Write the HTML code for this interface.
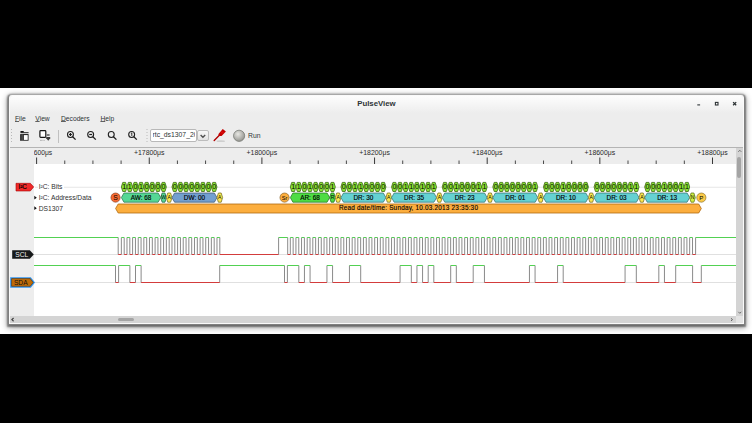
<!DOCTYPE html>
<html><head><meta charset="utf-8"><style>
*{margin:0;padding:0;box-sizing:border-box}
html,body{width:752px;height:423px;overflow:hidden;background:#fff;font-family:"Liberation Sans",sans-serif}
.blk{position:absolute;left:0;width:752px;background:#000}
.abs{position:absolute}
.win{position:absolute;left:8px;top:94px;width:737px;height:231px;background:#ededed;border:1px solid #808080;border-top-color:#a8a8a8;border-radius:4px 4px 0 0;box-shadow:0 1px 2px 0.5px rgba(0,0,0,0.45), 0 2px 6px 1px rgba(0,0,0,0.32), inset 0 0 0 1px #fafafa}
.title{position:absolute;left:10px;top:96px;width:733px;height:17px;background:linear-gradient(#fdfdfd,#ededed);border-radius:3px 3px 0 0}
.t{position:absolute;white-space:nowrap;line-height:1;color:#2e2e2e}
.menu{font-size:6.7px;top:116.1px;color:#2e3436}
.menu u{text-decoration:underline;text-decoration-color:#606060;text-underline-offset:0.3px}
svg{position:absolute;left:0;top:0}
</style></head><body>
<div class="blk" style="top:0;height:88px"></div>
<div class="blk" style="top:334px;height:89px"></div>
<div class="win"></div>
<div class="title"></div>

<div class="t" style="left:357.2px;top:99.6px;font-size:7.8px;font-weight:bold;color:#2e3436">PulseView</div>
<div class="t menu" style="left:15px"><u>F</u>ile</div>
<div class="t menu" style="left:35.3px"><u>V</u>iew</div>
<div class="t menu" style="left:61px"><u>D</u>ecoders</div>
<div class="t menu" style="left:100.4px"><u>H</u>elp</div>
<!-- toolbar bottom border + panels -->
<div class="abs" style="left:10px;top:147px;width:733px;height:1px;background:#b4b4b4"></div>
<div class="abs" style="left:34px;top:164px;width:702px;height:152px;background:#fff"></div>
<div class="abs" style="left:736px;top:148px;width:7px;height:168px;background:#d4d4d4"></div>
<div class="abs" style="left:10px;top:316px;width:726px;height:7px;background:#d4d4d4"></div>
<div class="abs" style="left:736px;top:316px;width:7px;height:7px;background:#e4e4e4"></div>
<div class="abs" style="left:737.2px;top:156.5px;width:4px;height:21.5px;background:#a4a4a4;border-radius:2px"></div>
<div class="abs" style="left:118.2px;top:317.8px;width:15.5px;height:3.6px;background:#a4a4a4;border-radius:2px"></div>
<!-- combobox -->
<div class="abs" style="left:150px;top:129.3px;width:47px;height:13px;background:#fff;border:1px solid #b8b8b8;border-radius:2px"></div>
<div class="t" style="left:152.5px;top:132.3px;font-size:6.8px;color:#2e3436;width:42px;overflow:hidden">rtc_ds1307_20</div>
<div class="abs" style="left:197.4px;top:129.7px;width:11.3px;height:11.8px;background:linear-gradient(#f8f8f8,#e2e2e2);border:1px solid #bcbcbc;border-radius:2px"></div>
<div class="t" style="left:248px;top:132.5px;font-size:6.8px;color:#2e3436">Run</div>
<svg width="752" height="423" viewBox="0 0 752 423" font-family="Liberation Sans">
 <!-- grips -->
 <g fill="#b8b8b8">
  <rect x="11" y="129" width="1" height="1"/><rect x="11" y="132" width="1" height="1"/><rect x="11" y="135" width="1" height="1"/><rect x="11" y="138" width="1" height="1"/><rect x="11" y="141" width="1" height="1"/>
  <rect x="146.5" y="129" width="1" height="1"/><rect x="146.5" y="132" width="1" height="1"/><rect x="146.5" y="135" width="1" height="1"/><rect x="146.5" y="138" width="1" height="1"/><rect x="146.5" y="141" width="1" height="1"/>
 </g>
 <path d="M58.5 130V143" stroke="#c0c0c0" stroke-width="1"/>
 <!-- window controls -->
 <path d="M697.3 104.9H700.1" stroke="#2e3436" stroke-width="1.1"/>
 <rect x="715.4" y="102.4" width="2.6" height="2.6" fill="none" stroke="#2e3436" stroke-width="1.1"/>
 <path d="M733.1 102.1L736.2 105.2M736.2 102.1L733.1 105.2" stroke="#2e3436" stroke-width="1.3"/>
 <!-- open icon -->
 <rect x="20.3" y="131" width="3.6" height="1.5" rx="0.7" fill="#111"/>
 <path d="M20.5 132.7H28.6" stroke="#111" stroke-width="0.9"/>
 <rect x="20" y="134" width="8.6" height="6.8" rx="0.6" fill="#2a2a2a"/>
 <path d="M21 134.2V140.6M22.4 134.2V140.6" stroke="#777" stroke-width="0.5"/>
 <rect x="23.9" y="135.1" width="3.8" height="4.8" fill="#fff"/>
 <!-- save icon -->
 <rect x="39.9" y="130.6" width="5.9" height="6.7" rx="0.8" fill="#fff" stroke="#151515" stroke-width="1.2"/>
 <rect x="46.8" y="134.4" width="2.8" height="1.2" fill="#333"/>
 <path d="M46.2 137H50.2V138.3L48.2 140.8L46.2 138.3Z" fill="#3a3a3a"/>
 <path d="M40 140.4H44.6" stroke="#888" stroke-width="0.7" stroke-dasharray="0.8 0.5"/>
 <!-- zoom icons -->
 <g fill="none" stroke="#1e1e1e" stroke-width="1.1">
  <circle cx="70.45" cy="134.5" r="2.95"/><path d="M72.6 136.7L75.6 139.6" stroke-width="1.3"/><path d="M69 134.5H71.9M70.45 133V136" stroke-width="1.2"/>
  <circle cx="90.65" cy="134.5" r="2.95"/><path d="M92.8 136.7L95.8 139.6" stroke-width="1.3"/><path d="M89.2 134.5H92.1" stroke-width="1.2"/>
  <circle cx="111.25" cy="134.5" r="2.95"/><path d="M113.4 136.7L116.4 139.6" stroke-width="1.3"/>
  <circle cx="131.65" cy="134.5" r="2.95"/><path d="M133.8 136.7L136.8 139.6" stroke-width="1.3"/><path d="M130.9 133.5L131.8 132.9V136.1" stroke-width="0.9"/>
 </g>
 <!-- combobox arrow -->
 <path d="M200.6 135.1L202.9 137.3L205.2 135.1" fill="none" stroke="#505050" stroke-width="1.4"/>
 <!-- probe icon -->
 <path d="M214.2 140.4L219.6 135" stroke="#b00000" stroke-width="1.4" stroke-linecap="round"/>
 <path d="M218.3 134.3L222.7 129.1L225.9 131.4L221.6 135.9L219.2 135.9Z" fill="#c40000"/>
 <ellipse cx="222.2" cy="132.6" rx="1.4" ry="1" fill="#e81010" opacity="0.7"/>
 <ellipse cx="220.8" cy="141.2" rx="4.2" ry="0.9" fill="#aaa" opacity="0.45"/>
 <!-- run circle -->
 <defs><radialGradient id="rg" cx="0.4" cy="0.35" r="0.7"><stop offset="0" stop-color="#e8e8e4"/><stop offset="1" stop-color="#8e8f8a"/></radialGradient></defs>
 <circle cx="239.1" cy="135.8" r="5.6" fill="url(#rg)" stroke="#6f716c" stroke-width="0.7"/>
 <!-- ruler -->
 <svg x="34" y="147" width="702" height="18" viewBox="34 147 702 18" overflow="hidden"><path d="M36.60 157.5V164" stroke="#383838" stroke-width="1"/><path d="M64.76 160.5V164" stroke="#383838" stroke-width="0.9"/><path d="M92.93 160.5V164" stroke="#383838" stroke-width="0.9"/><path d="M121.09 160.5V164" stroke="#383838" stroke-width="0.9"/><text x="33.8" y="154.6" font-size="6.7" fill="#2a2a2a">600μs</text><path d="M149.25 157.5V164" stroke="#383838" stroke-width="1"/><path d="M177.41 160.5V164" stroke="#383838" stroke-width="0.9"/><path d="M205.57 160.5V164" stroke="#383838" stroke-width="0.9"/><path d="M233.74 160.5V164" stroke="#383838" stroke-width="0.9"/><text x="149.25" y="154.7" font-size="6.9" text-anchor="middle" fill="#2a2a2a">+17800μs</text><path d="M261.90 157.5V164" stroke="#383838" stroke-width="1"/><path d="M290.06 160.5V164" stroke="#383838" stroke-width="0.9"/><path d="M318.23 160.5V164" stroke="#383838" stroke-width="0.9"/><path d="M346.39 160.5V164" stroke="#383838" stroke-width="0.9"/><text x="261.90" y="154.7" font-size="6.9" text-anchor="middle" fill="#2a2a2a">+18000μs</text><path d="M374.55 157.5V164" stroke="#383838" stroke-width="1"/><path d="M402.71 160.5V164" stroke="#383838" stroke-width="0.9"/><path d="M430.88 160.5V164" stroke="#383838" stroke-width="0.9"/><path d="M459.04 160.5V164" stroke="#383838" stroke-width="0.9"/><text x="374.55" y="154.7" font-size="6.9" text-anchor="middle" fill="#2a2a2a">+18200μs</text><path d="M487.20 157.5V164" stroke="#383838" stroke-width="1"/><path d="M515.36 160.5V164" stroke="#383838" stroke-width="0.9"/><path d="M543.53 160.5V164" stroke="#383838" stroke-width="0.9"/><path d="M571.69 160.5V164" stroke="#383838" stroke-width="0.9"/><text x="487.20" y="154.7" font-size="6.9" text-anchor="middle" fill="#2a2a2a">+18400μs</text><path d="M599.85 157.5V164" stroke="#383838" stroke-width="1"/><path d="M628.01 160.5V164" stroke="#383838" stroke-width="0.9"/><path d="M656.18 160.5V164" stroke="#383838" stroke-width="0.9"/><path d="M684.34 160.5V164" stroke="#383838" stroke-width="0.9"/><text x="599.85" y="154.7" font-size="6.9" text-anchor="middle" fill="#2a2a2a">+18600μs</text><path d="M712.50 157.5V164" stroke="#383838" stroke-width="1"/><text x="712.50" y="154.7" font-size="6.9" text-anchor="middle" fill="#2a2a2a">+18800μs</text><text x="825.15" y="154.7" font-size="6.9" text-anchor="middle" fill="#2a2a2a">+19000μs</text></svg>
 <!-- trace header texts -->
 <path d="M35 187.3H38M64 187.3H736" stroke="#e6e6e6" stroke-width="1.1"/>
 <path d="M34 254.5H736M34 282.5H736" stroke="#e0e0e0" stroke-width="1"/>
 <g font-size="6.7" fill="#303030">
  <text x="38.7" y="189.3">I²C: Bits</text>
  <text x="38.7" y="200">I²C: Address/Data</text>
  <text x="38.7" y="210.6">DS1307</text>
 </g>
 <path d="M34.3 195.8L36.8 197.7L34.3 199.6Z M34.3 206.3L36.8 208.2L34.3 210.1Z" fill="#111"/>
 <!-- I2C tag -->
 <path d="M16 183.3H30.3L33.7 186.9L30.3 191H16Z" fill="#ef2929" stroke="#a40000" stroke-width="0.6"/>
 <text x="18.4" y="188.6" font-size="6.4" fill="#000" stroke="#000" stroke-width="0.15">I²C</text>
 <!-- SCL tag -->
 <path d="M12.2 250.2H29.8L33.8 254.5L29.8 258.8H12.2Z" fill="#16191a"/>
 <text x="15.2" y="256.6" font-size="6.7" fill="#f0f0f0">SCL</text>
 <!-- SDA tag -->
 <path d="M10.2 277.2H30.8L35 282.5L30.8 287.7H10.2Z" fill="#3094f0"/>
 <path d="M11.6 278.6H30.2L33.2 282.5L30.2 286.3H11.6Z" fill="#c06c08" stroke="#5a3000" stroke-width="0.6"/>
 <text x="13.9" y="284.8" font-size="6.7" fill="#111">SDA</text>
 <!-- waveforms -->
 <g fill="none" stroke-width="1">
  <path d="M118.20 237.5V254.5M121.35 237.5V254.5M124.20 237.5V254.5M126.97 237.5V254.5M129.82 237.5V254.5M132.60 237.5V254.5M135.45 237.5V254.5M138.22 237.5V254.5M141.07 237.5V254.5M143.85 237.5V254.5M146.70 237.5V254.5M149.47 237.5V254.5M152.32 237.5V254.5M155.10 237.5V254.5M157.95 237.5V254.5M160.72 237.5V254.5M163.57 237.5V254.5M166.35 237.5V254.5M169.20 237.5V254.5M171.97 237.5V254.5M174.82 237.5V254.5M177.60 237.5V254.5M180.45 237.5V254.5M183.22 237.5V254.5M186.07 237.5V254.5M188.85 237.5V254.5M191.70 237.5V254.5M194.47 237.5V254.5M197.32 237.5V254.5M200.10 237.5V254.5M202.95 237.5V254.5M205.72 237.5V254.5M208.57 237.5V254.5M211.35 237.5V254.5M214.20 237.5V254.5M216.97 237.5V254.5M219.82 237.5V254.5M278.60 237.5V254.5M287.70 237.5V254.5M290.30 237.5V254.5M293.15 237.5V254.5M295.93 237.5V254.5M298.78 237.5V254.5M301.55 237.5V254.5M304.40 237.5V254.5M307.18 237.5V254.5M310.03 237.5V254.5M312.80 237.5V254.5M315.65 237.5V254.5M318.43 237.5V254.5M321.28 237.5V254.5M324.05 237.5V254.5M326.90 237.5V254.5M329.68 237.5V254.5M332.53 237.5V254.5M335.30 237.5V254.5M338.15 237.5V254.5M340.93 237.5V254.5M343.78 237.5V254.5M346.55 237.5V254.5M349.40 237.5V254.5M352.18 237.5V254.5M355.03 237.5V254.5M357.80 237.5V254.5M360.65 237.5V254.5M363.43 237.5V254.5M366.28 237.5V254.5M369.05 237.5V254.5M371.90 237.5V254.5M374.68 237.5V254.5M377.53 237.5V254.5M380.30 237.5V254.5M383.15 237.5V254.5M385.93 237.5V254.5M388.78 237.5V254.5M391.55 237.5V254.5M394.40 237.5V254.5M397.18 237.5V254.5M400.03 237.5V254.5M402.80 237.5V254.5M405.65 237.5V254.5M408.43 237.5V254.5M411.28 237.5V254.5M414.05 237.5V254.5M416.90 237.5V254.5M419.68 237.5V254.5M422.53 237.5V254.5M425.30 237.5V254.5M428.15 237.5V254.5M430.93 237.5V254.5M433.78 237.5V254.5M436.55 237.5V254.5M439.40 237.5V254.5M442.18 237.5V254.5M445.03 237.5V254.5M447.80 237.5V254.5M450.65 237.5V254.5M453.43 237.5V254.5M456.28 237.5V254.5M459.05 237.5V254.5M461.90 237.5V254.5M464.68 237.5V254.5M467.53 237.5V254.5M470.30 237.5V254.5M473.15 237.5V254.5M475.93 237.5V254.5M478.78 237.5V254.5M481.55 237.5V254.5M484.40 237.5V254.5M487.18 237.5V254.5M490.03 237.5V254.5M492.80 237.5V254.5M495.65 237.5V254.5M498.43 237.5V254.5M501.28 237.5V254.5M504.05 237.5V254.5M506.90 237.5V254.5M509.68 237.5V254.5M512.52 237.5V254.5M515.30 237.5V254.5M518.15 237.5V254.5M520.92 237.5V254.5M523.77 237.5V254.5M526.55 237.5V254.5M529.40 237.5V254.5M532.17 237.5V254.5M535.02 237.5V254.5M537.80 237.5V254.5M540.65 237.5V254.5M543.42 237.5V254.5M546.27 237.5V254.5M549.05 237.5V254.5M551.90 237.5V254.5M554.67 237.5V254.5M557.52 237.5V254.5M560.30 237.5V254.5M563.15 237.5V254.5M565.92 237.5V254.5M568.77 237.5V254.5M571.55 237.5V254.5M574.40 237.5V254.5M577.17 237.5V254.5M580.02 237.5V254.5M582.80 237.5V254.5M585.65 237.5V254.5M588.42 237.5V254.5M591.27 237.5V254.5M594.05 237.5V254.5M596.90 237.5V254.5M599.67 237.5V254.5M602.52 237.5V254.5M605.30 237.5V254.5M608.15 237.5V254.5M610.92 237.5V254.5M613.77 237.5V254.5M616.55 237.5V254.5M619.40 237.5V254.5M622.17 237.5V254.5M625.02 237.5V254.5M627.80 237.5V254.5M630.65 237.5V254.5M633.42 237.5V254.5M636.27 237.5V254.5M639.05 237.5V254.5M641.90 237.5V254.5M644.67 237.5V254.5M647.52 237.5V254.5M650.30 237.5V254.5M653.15 237.5V254.5M655.92 237.5V254.5M658.77 237.5V254.5M661.55 237.5V254.5M664.40 237.5V254.5M667.17 237.5V254.5M670.02 237.5V254.5M672.80 237.5V254.5M675.65 237.5V254.5M678.42 237.5V254.5M681.27 237.5V254.5M684.05 237.5V254.5M686.90 237.5V254.5M689.67 237.5V254.5M692.52 237.5V254.5M695.60 237.5V254.5M115.50 265.5V282.5M118.60 265.5V282.5M129.88 265.5V282.5M135.50 265.5V282.5M141.12 265.5V282.5M219.70 265.5V282.5M284.50 265.5V282.5M287.40 265.5V282.5M298.82 265.5V282.5M304.45 265.5V282.5M310.07 265.5V282.5M326.95 265.5V282.5M332.57 265.5V282.5M349.45 265.5V282.5M360.70 265.5V282.5M400.07 265.5V282.5M411.32 265.5V282.5M416.95 265.5V282.5M422.57 265.5V282.5M428.20 265.5V282.5M433.82 265.5V282.5M450.70 265.5V282.5M456.32 265.5V282.5M473.20 265.5V282.5M484.45 265.5V282.5M529.45 265.5V282.5M535.07 265.5V282.5M557.57 265.5V282.5M563.20 265.5V282.5M625.07 265.5V282.5M636.32 265.5V282.5M658.82 265.5V282.5M664.45 265.5V282.5M675.70 265.5V282.5M692.60 265.5V282.5M701.30 265.5V282.5" stroke="#8a8a8a"/>
  <path d="M34.00 237.5H118.20M121.35 237.5H124.20M126.97 237.5H129.82M132.60 237.5H135.45M138.22 237.5H141.07M143.85 237.5H146.70M149.47 237.5H152.32M155.10 237.5H157.95M160.72 237.5H163.57M166.35 237.5H169.20M171.97 237.5H174.82M177.60 237.5H180.45M183.22 237.5H186.07M188.85 237.5H191.70M194.47 237.5H197.32M200.10 237.5H202.95M205.72 237.5H208.57M211.35 237.5H214.20M216.97 237.5H219.82M278.60 237.5H287.70M290.30 237.5H293.15M295.93 237.5H298.78M301.55 237.5H304.40M307.18 237.5H310.03M312.80 237.5H315.65M318.43 237.5H321.28M324.05 237.5H326.90M329.68 237.5H332.53M335.30 237.5H338.15M340.93 237.5H343.78M346.55 237.5H349.40M352.18 237.5H355.03M357.80 237.5H360.65M363.43 237.5H366.28M369.05 237.5H371.90M374.68 237.5H377.53M380.30 237.5H383.15M385.93 237.5H388.78M391.55 237.5H394.40M397.18 237.5H400.03M402.80 237.5H405.65M408.43 237.5H411.28M414.05 237.5H416.90M419.68 237.5H422.53M425.30 237.5H428.15M430.93 237.5H433.78M436.55 237.5H439.40M442.18 237.5H445.03M447.80 237.5H450.65M453.43 237.5H456.28M459.05 237.5H461.90M464.68 237.5H467.53M470.30 237.5H473.15M475.93 237.5H478.78M481.55 237.5H484.40M487.18 237.5H490.03M492.80 237.5H495.65M498.43 237.5H501.28M504.05 237.5H506.90M509.68 237.5H512.52M515.30 237.5H518.15M520.92 237.5H523.77M526.55 237.5H529.40M532.17 237.5H535.02M537.80 237.5H540.65M543.42 237.5H546.27M549.05 237.5H551.90M554.67 237.5H557.52M560.30 237.5H563.15M565.92 237.5H568.77M571.55 237.5H574.40M577.17 237.5H580.02M582.80 237.5H585.65M588.42 237.5H591.27M594.05 237.5H596.90M599.67 237.5H602.52M605.30 237.5H608.15M610.92 237.5H613.77M616.55 237.5H619.40M622.17 237.5H625.02M627.80 237.5H630.65M633.42 237.5H636.27M639.05 237.5H641.90M644.67 237.5H647.52M650.30 237.5H653.15M655.92 237.5H658.77M661.55 237.5H664.40M667.17 237.5H670.02M672.80 237.5H675.65M678.42 237.5H681.27M684.05 237.5H686.90M689.67 237.5H692.52M695.60 237.5H736M34.00 265.5H115.50M118.60 265.5H129.88M135.50 265.5H141.12M219.70 265.5H284.50M287.40 265.5H298.82M304.45 265.5H310.07M326.95 265.5H332.57M349.45 265.5H360.70M400.07 265.5H411.32M416.95 265.5H422.57M428.20 265.5H433.82M450.70 265.5H456.32M473.20 265.5H484.45M529.45 265.5H535.07M557.57 265.5H563.20M625.07 265.5H636.32M658.82 265.5H664.45M675.70 265.5H692.60M701.30 265.5H736" stroke="#52d152"/>
  <path d="M118.20 254.5H121.35M124.20 254.5H126.97M129.82 254.5H132.60M135.45 254.5H138.22M141.07 254.5H143.85M146.70 254.5H149.47M152.32 254.5H155.10M157.95 254.5H160.72M163.57 254.5H166.35M169.20 254.5H171.97M174.82 254.5H177.60M180.45 254.5H183.22M186.07 254.5H188.85M191.70 254.5H194.47M197.32 254.5H200.10M202.95 254.5H205.72M208.57 254.5H211.35M214.20 254.5H216.97M219.82 254.5H278.60M287.70 254.5H290.30M293.15 254.5H295.93M298.78 254.5H301.55M304.40 254.5H307.18M310.03 254.5H312.80M315.65 254.5H318.43M321.28 254.5H324.05M326.90 254.5H329.68M332.53 254.5H335.30M338.15 254.5H340.93M343.78 254.5H346.55M349.40 254.5H352.18M355.03 254.5H357.80M360.65 254.5H363.43M366.28 254.5H369.05M371.90 254.5H374.68M377.53 254.5H380.30M383.15 254.5H385.93M388.78 254.5H391.55M394.40 254.5H397.18M400.03 254.5H402.80M405.65 254.5H408.43M411.28 254.5H414.05M416.90 254.5H419.68M422.53 254.5H425.30M428.15 254.5H430.93M433.78 254.5H436.55M439.40 254.5H442.18M445.03 254.5H447.80M450.65 254.5H453.43M456.28 254.5H459.05M461.90 254.5H464.68M467.53 254.5H470.30M473.15 254.5H475.93M478.78 254.5H481.55M484.40 254.5H487.18M490.03 254.5H492.80M495.65 254.5H498.43M501.28 254.5H504.05M506.90 254.5H509.68M512.52 254.5H515.30M518.15 254.5H520.92M523.77 254.5H526.55M529.40 254.5H532.17M535.02 254.5H537.80M540.65 254.5H543.42M546.27 254.5H549.05M551.90 254.5H554.67M557.52 254.5H560.30M563.15 254.5H565.92M568.77 254.5H571.55M574.40 254.5H577.17M580.02 254.5H582.80M585.65 254.5H588.42M591.27 254.5H594.05M596.90 254.5H599.67M602.52 254.5H605.30M608.15 254.5H610.92M613.77 254.5H616.55M619.40 254.5H622.17M625.02 254.5H627.80M630.65 254.5H633.42M636.27 254.5H639.05M641.90 254.5H644.67M647.52 254.5H650.30M653.15 254.5H655.92M658.77 254.5H661.55M664.40 254.5H667.17M670.02 254.5H672.80M675.65 254.5H678.42M681.27 254.5H684.05M686.90 254.5H689.67M692.52 254.5H695.60M115.50 282.5H118.60M129.88 282.5H135.50M141.12 282.5H219.70M284.50 282.5H287.40M298.82 282.5H304.45M310.07 282.5H326.95M332.57 282.5H349.45M360.70 282.5H400.07M411.32 282.5H416.95M422.57 282.5H428.20M433.82 282.5H450.70M456.32 282.5H473.20M484.45 282.5H529.45M535.07 282.5H557.57M563.20 282.5H625.07M636.32 282.5H658.82M664.45 282.5H675.70M692.60 282.5H701.30" stroke="#d33c3c"/>
 </g>
 <!-- decoders -->
 <g font-family="Liberation Sans"><polygon points="121.35,186.95 122.76,182.40 125.57,182.40 126.97,186.95 125.57,191.50 122.76,191.50" fill="#8AE234" stroke="#3d6a12" stroke-width="0.8"/><text x="124.16" y="188.90" font-size="7.0" text-anchor="middle" fill="#000">1</text><polygon points="126.97,186.95 128.38,182.40 131.19,182.40 132.60,186.95 131.19,191.50 128.38,191.50" fill="#8AE234" stroke="#3d6a12" stroke-width="0.8"/><text x="129.79" y="188.90" font-size="7.0" text-anchor="middle" fill="#000">1</text><polygon points="132.60,186.95 134.01,182.40 136.82,182.40 138.22,186.95 136.82,191.50 134.01,191.50" fill="#8AE234" stroke="#3d6a12" stroke-width="0.8"/><text x="135.41" y="188.90" font-size="7.0" text-anchor="middle" fill="#000">0</text><polygon points="138.22,186.95 139.63,182.40 142.44,182.40 143.85,186.95 142.44,191.50 139.63,191.50" fill="#8AE234" stroke="#3d6a12" stroke-width="0.8"/><text x="141.04" y="188.90" font-size="7.0" text-anchor="middle" fill="#000">1</text><polygon points="143.85,186.95 145.26,182.40 148.07,182.40 149.47,186.95 148.07,191.50 145.26,191.50" fill="#8AE234" stroke="#3d6a12" stroke-width="0.8"/><text x="146.66" y="188.90" font-size="7.0" text-anchor="middle" fill="#000">0</text><polygon points="149.47,186.95 150.88,182.40 153.69,182.40 155.10,186.95 153.69,191.50 150.88,191.50" fill="#8AE234" stroke="#3d6a12" stroke-width="0.8"/><text x="152.29" y="188.90" font-size="7.0" text-anchor="middle" fill="#000">0</text><polygon points="155.10,186.95 156.51,182.40 159.32,182.40 160.72,186.95 159.32,191.50 156.51,191.50" fill="#8AE234" stroke="#3d6a12" stroke-width="0.8"/><text x="157.91" y="188.90" font-size="7.0" text-anchor="middle" fill="#000">0</text><polygon points="160.72,186.95 162.13,182.40 164.94,182.40 166.35,186.95 164.94,191.50 162.13,191.50" fill="#8AE234" stroke="#3d6a12" stroke-width="0.8"/><text x="163.54" y="188.90" font-size="7.0" text-anchor="middle" fill="#000">0</text><polygon points="171.97,186.95 173.38,182.40 176.19,182.40 177.60,186.95 176.19,191.50 173.38,191.50" fill="#8AE234" stroke="#3d6a12" stroke-width="0.8"/><text x="174.79" y="188.90" font-size="7.0" text-anchor="middle" fill="#000">0</text><polygon points="177.60,186.95 179.01,182.40 181.82,182.40 183.22,186.95 181.82,191.50 179.01,191.50" fill="#8AE234" stroke="#3d6a12" stroke-width="0.8"/><text x="180.41" y="188.90" font-size="7.0" text-anchor="middle" fill="#000">0</text><polygon points="183.22,186.95 184.63,182.40 187.44,182.40 188.85,186.95 187.44,191.50 184.63,191.50" fill="#8AE234" stroke="#3d6a12" stroke-width="0.8"/><text x="186.04" y="188.90" font-size="7.0" text-anchor="middle" fill="#000">0</text><polygon points="188.85,186.95 190.26,182.40 193.07,182.40 194.47,186.95 193.07,191.50 190.26,191.50" fill="#8AE234" stroke="#3d6a12" stroke-width="0.8"/><text x="191.66" y="188.90" font-size="7.0" text-anchor="middle" fill="#000">0</text><polygon points="194.47,186.95 195.88,182.40 198.69,182.40 200.10,186.95 198.69,191.50 195.88,191.50" fill="#8AE234" stroke="#3d6a12" stroke-width="0.8"/><text x="197.29" y="188.90" font-size="7.0" text-anchor="middle" fill="#000">0</text><polygon points="200.10,186.95 201.51,182.40 204.32,182.40 205.72,186.95 204.32,191.50 201.51,191.50" fill="#8AE234" stroke="#3d6a12" stroke-width="0.8"/><text x="202.91" y="188.90" font-size="7.0" text-anchor="middle" fill="#000">0</text><polygon points="205.72,186.95 207.13,182.40 209.94,182.40 211.35,186.95 209.94,191.50 207.13,191.50" fill="#8AE234" stroke="#3d6a12" stroke-width="0.8"/><text x="208.54" y="188.90" font-size="7.0" text-anchor="middle" fill="#000">0</text><polygon points="211.35,186.95 212.76,182.40 215.57,182.40 216.97,186.95 215.57,191.50 212.76,191.50" fill="#8AE234" stroke="#3d6a12" stroke-width="0.8"/><text x="214.16" y="188.90" font-size="7.0" text-anchor="middle" fill="#000">0</text><polygon points="290.30,186.95 291.71,182.40 294.52,182.40 295.93,186.95 294.52,191.50 291.71,191.50" fill="#8AE234" stroke="#3d6a12" stroke-width="0.8"/><text x="293.11" y="188.90" font-size="7.0" text-anchor="middle" fill="#000">1</text><polygon points="295.93,186.95 297.33,182.40 300.14,182.40 301.55,186.95 300.14,191.50 297.33,191.50" fill="#8AE234" stroke="#3d6a12" stroke-width="0.8"/><text x="298.74" y="188.90" font-size="7.0" text-anchor="middle" fill="#000">1</text><polygon points="301.55,186.95 302.96,182.40 305.77,182.40 307.18,186.95 305.77,191.50 302.96,191.50" fill="#8AE234" stroke="#3d6a12" stroke-width="0.8"/><text x="304.36" y="188.90" font-size="7.0" text-anchor="middle" fill="#000">0</text><polygon points="307.18,186.95 308.58,182.40 311.39,182.40 312.80,186.95 311.39,191.50 308.58,191.50" fill="#8AE234" stroke="#3d6a12" stroke-width="0.8"/><text x="309.99" y="188.90" font-size="7.0" text-anchor="middle" fill="#000">1</text><polygon points="312.80,186.95 314.21,182.40 317.02,182.40 318.43,186.95 317.02,191.50 314.21,191.50" fill="#8AE234" stroke="#3d6a12" stroke-width="0.8"/><text x="315.61" y="188.90" font-size="7.0" text-anchor="middle" fill="#000">0</text><polygon points="318.43,186.95 319.83,182.40 322.64,182.40 324.05,186.95 322.64,191.50 319.83,191.50" fill="#8AE234" stroke="#3d6a12" stroke-width="0.8"/><text x="321.24" y="188.90" font-size="7.0" text-anchor="middle" fill="#000">0</text><polygon points="324.05,186.95 325.46,182.40 328.27,182.40 329.68,186.95 328.27,191.50 325.46,191.50" fill="#8AE234" stroke="#3d6a12" stroke-width="0.8"/><text x="326.86" y="188.90" font-size="7.0" text-anchor="middle" fill="#000">0</text><polygon points="329.68,186.95 331.08,182.40 333.89,182.40 335.30,186.95 333.89,191.50 331.08,191.50" fill="#8AE234" stroke="#3d6a12" stroke-width="0.8"/><text x="332.49" y="188.90" font-size="7.0" text-anchor="middle" fill="#000">1</text><polygon points="340.93,186.95 342.33,182.40 345.14,182.40 346.55,186.95 345.14,191.50 342.33,191.50" fill="#8AE234" stroke="#3d6a12" stroke-width="0.8"/><text x="343.74" y="188.90" font-size="7.0" text-anchor="middle" fill="#000">0</text><polygon points="346.55,186.95 347.96,182.40 350.77,182.40 352.18,186.95 350.77,191.50 347.96,191.50" fill="#8AE234" stroke="#3d6a12" stroke-width="0.8"/><text x="349.36" y="188.90" font-size="7.0" text-anchor="middle" fill="#000">0</text><polygon points="352.18,186.95 353.58,182.40 356.39,182.40 357.80,186.95 356.39,191.50 353.58,191.50" fill="#8AE234" stroke="#3d6a12" stroke-width="0.8"/><text x="354.99" y="188.90" font-size="7.0" text-anchor="middle" fill="#000">1</text><polygon points="357.80,186.95 359.21,182.40 362.02,182.40 363.43,186.95 362.02,191.50 359.21,191.50" fill="#8AE234" stroke="#3d6a12" stroke-width="0.8"/><text x="360.61" y="188.90" font-size="7.0" text-anchor="middle" fill="#000">1</text><polygon points="363.43,186.95 364.83,182.40 367.64,182.40 369.05,186.95 367.64,191.50 364.83,191.50" fill="#8AE234" stroke="#3d6a12" stroke-width="0.8"/><text x="366.24" y="188.90" font-size="7.0" text-anchor="middle" fill="#000">0</text><polygon points="369.05,186.95 370.46,182.40 373.27,182.40 374.68,186.95 373.27,191.50 370.46,191.50" fill="#8AE234" stroke="#3d6a12" stroke-width="0.8"/><text x="371.86" y="188.90" font-size="7.0" text-anchor="middle" fill="#000">0</text><polygon points="374.68,186.95 376.08,182.40 378.89,182.40 380.30,186.95 378.89,191.50 376.08,191.50" fill="#8AE234" stroke="#3d6a12" stroke-width="0.8"/><text x="377.49" y="188.90" font-size="7.0" text-anchor="middle" fill="#000">0</text><polygon points="380.30,186.95 381.71,182.40 384.52,182.40 385.93,186.95 384.52,191.50 381.71,191.50" fill="#8AE234" stroke="#3d6a12" stroke-width="0.8"/><text x="383.11" y="188.90" font-size="7.0" text-anchor="middle" fill="#000">0</text><polygon points="391.55,186.95 392.96,182.40 395.77,182.40 397.18,186.95 395.77,191.50 392.96,191.50" fill="#8AE234" stroke="#3d6a12" stroke-width="0.8"/><text x="394.36" y="188.90" font-size="7.0" text-anchor="middle" fill="#000">0</text><polygon points="397.18,186.95 398.58,182.40 401.39,182.40 402.80,186.95 401.39,191.50 398.58,191.50" fill="#8AE234" stroke="#3d6a12" stroke-width="0.8"/><text x="399.99" y="188.90" font-size="7.0" text-anchor="middle" fill="#000">0</text><polygon points="402.80,186.95 404.21,182.40 407.02,182.40 408.43,186.95 407.02,191.50 404.21,191.50" fill="#8AE234" stroke="#3d6a12" stroke-width="0.8"/><text x="405.61" y="188.90" font-size="7.0" text-anchor="middle" fill="#000">1</text><polygon points="408.43,186.95 409.83,182.40 412.64,182.40 414.05,186.95 412.64,191.50 409.83,191.50" fill="#8AE234" stroke="#3d6a12" stroke-width="0.8"/><text x="411.24" y="188.90" font-size="7.0" text-anchor="middle" fill="#000">1</text><polygon points="414.05,186.95 415.46,182.40 418.27,182.40 419.68,186.95 418.27,191.50 415.46,191.50" fill="#8AE234" stroke="#3d6a12" stroke-width="0.8"/><text x="416.86" y="188.90" font-size="7.0" text-anchor="middle" fill="#000">0</text><polygon points="419.68,186.95 421.08,182.40 423.89,182.40 425.30,186.95 423.89,191.50 421.08,191.50" fill="#8AE234" stroke="#3d6a12" stroke-width="0.8"/><text x="422.49" y="188.90" font-size="7.0" text-anchor="middle" fill="#000">1</text><polygon points="425.30,186.95 426.71,182.40 429.52,182.40 430.93,186.95 429.52,191.50 426.71,191.50" fill="#8AE234" stroke="#3d6a12" stroke-width="0.8"/><text x="428.11" y="188.90" font-size="7.0" text-anchor="middle" fill="#000">0</text><polygon points="430.93,186.95 432.33,182.40 435.14,182.40 436.55,186.95 435.14,191.50 432.33,191.50" fill="#8AE234" stroke="#3d6a12" stroke-width="0.8"/><text x="433.74" y="188.90" font-size="7.0" text-anchor="middle" fill="#000">1</text><polygon points="442.18,186.95 443.58,182.40 446.39,182.40 447.80,186.95 446.39,191.50 443.58,191.50" fill="#8AE234" stroke="#3d6a12" stroke-width="0.8"/><text x="444.99" y="188.90" font-size="7.0" text-anchor="middle" fill="#000">0</text><polygon points="447.80,186.95 449.21,182.40 452.02,182.40 453.43,186.95 452.02,191.50 449.21,191.50" fill="#8AE234" stroke="#3d6a12" stroke-width="0.8"/><text x="450.61" y="188.90" font-size="7.0" text-anchor="middle" fill="#000">0</text><polygon points="453.43,186.95 454.83,182.40 457.64,182.40 459.05,186.95 457.64,191.50 454.83,191.50" fill="#8AE234" stroke="#3d6a12" stroke-width="0.8"/><text x="456.24" y="188.90" font-size="7.0" text-anchor="middle" fill="#000">1</text><polygon points="459.05,186.95 460.46,182.40 463.27,182.40 464.68,186.95 463.27,191.50 460.46,191.50" fill="#8AE234" stroke="#3d6a12" stroke-width="0.8"/><text x="461.86" y="188.90" font-size="7.0" text-anchor="middle" fill="#000">0</text><polygon points="464.68,186.95 466.08,182.40 468.89,182.40 470.30,186.95 468.89,191.50 466.08,191.50" fill="#8AE234" stroke="#3d6a12" stroke-width="0.8"/><text x="467.49" y="188.90" font-size="7.0" text-anchor="middle" fill="#000">0</text><polygon points="470.30,186.95 471.71,182.40 474.52,182.40 475.93,186.95 474.52,191.50 471.71,191.50" fill="#8AE234" stroke="#3d6a12" stroke-width="0.8"/><text x="473.11" y="188.90" font-size="7.0" text-anchor="middle" fill="#000">0</text><polygon points="475.93,186.95 477.33,182.40 480.14,182.40 481.55,186.95 480.14,191.50 477.33,191.50" fill="#8AE234" stroke="#3d6a12" stroke-width="0.8"/><text x="478.74" y="188.90" font-size="7.0" text-anchor="middle" fill="#000">1</text><polygon points="481.55,186.95 482.96,182.40 485.77,182.40 487.18,186.95 485.77,191.50 482.96,191.50" fill="#8AE234" stroke="#3d6a12" stroke-width="0.8"/><text x="484.36" y="188.90" font-size="7.0" text-anchor="middle" fill="#000">1</text><polygon points="492.80,186.95 494.21,182.40 497.02,182.40 498.43,186.95 497.02,191.50 494.21,191.50" fill="#8AE234" stroke="#3d6a12" stroke-width="0.8"/><text x="495.61" y="188.90" font-size="7.0" text-anchor="middle" fill="#000">0</text><polygon points="498.43,186.95 499.83,182.40 502.64,182.40 504.05,186.95 502.64,191.50 499.83,191.50" fill="#8AE234" stroke="#3d6a12" stroke-width="0.8"/><text x="501.24" y="188.90" font-size="7.0" text-anchor="middle" fill="#000">0</text><polygon points="504.05,186.95 505.46,182.40 508.27,182.40 509.68,186.95 508.27,191.50 505.46,191.50" fill="#8AE234" stroke="#3d6a12" stroke-width="0.8"/><text x="506.86" y="188.90" font-size="7.0" text-anchor="middle" fill="#000">0</text><polygon points="509.68,186.95 511.08,182.40 513.89,182.40 515.30,186.95 513.89,191.50 511.08,191.50" fill="#8AE234" stroke="#3d6a12" stroke-width="0.8"/><text x="512.49" y="188.90" font-size="7.0" text-anchor="middle" fill="#000">0</text><polygon points="515.30,186.95 516.71,182.40 519.52,182.40 520.92,186.95 519.52,191.50 516.71,191.50" fill="#8AE234" stroke="#3d6a12" stroke-width="0.8"/><text x="518.11" y="188.90" font-size="7.0" text-anchor="middle" fill="#000">0</text><polygon points="520.92,186.95 522.33,182.40 525.14,182.40 526.55,186.95 525.14,191.50 522.33,191.50" fill="#8AE234" stroke="#3d6a12" stroke-width="0.8"/><text x="523.74" y="188.90" font-size="7.0" text-anchor="middle" fill="#000">0</text><polygon points="526.55,186.95 527.96,182.40 530.77,182.40 532.17,186.95 530.77,191.50 527.96,191.50" fill="#8AE234" stroke="#3d6a12" stroke-width="0.8"/><text x="529.36" y="188.90" font-size="7.0" text-anchor="middle" fill="#000">0</text><polygon points="532.17,186.95 533.58,182.40 536.39,182.40 537.80,186.95 536.39,191.50 533.58,191.50" fill="#8AE234" stroke="#3d6a12" stroke-width="0.8"/><text x="534.99" y="188.90" font-size="7.0" text-anchor="middle" fill="#000">1</text><polygon points="543.42,186.95 544.83,182.40 547.64,182.40 549.05,186.95 547.64,191.50 544.83,191.50" fill="#8AE234" stroke="#3d6a12" stroke-width="0.8"/><text x="546.24" y="188.90" font-size="7.0" text-anchor="middle" fill="#000">0</text><polygon points="549.05,186.95 550.46,182.40 553.27,182.40 554.67,186.95 553.27,191.50 550.46,191.50" fill="#8AE234" stroke="#3d6a12" stroke-width="0.8"/><text x="551.86" y="188.90" font-size="7.0" text-anchor="middle" fill="#000">0</text><polygon points="554.67,186.95 556.08,182.40 558.89,182.40 560.30,186.95 558.89,191.50 556.08,191.50" fill="#8AE234" stroke="#3d6a12" stroke-width="0.8"/><text x="557.49" y="188.90" font-size="7.0" text-anchor="middle" fill="#000">0</text><polygon points="560.30,186.95 561.71,182.40 564.52,182.40 565.92,186.95 564.52,191.50 561.71,191.50" fill="#8AE234" stroke="#3d6a12" stroke-width="0.8"/><text x="563.11" y="188.90" font-size="7.0" text-anchor="middle" fill="#000">1</text><polygon points="565.92,186.95 567.33,182.40 570.14,182.40 571.55,186.95 570.14,191.50 567.33,191.50" fill="#8AE234" stroke="#3d6a12" stroke-width="0.8"/><text x="568.74" y="188.90" font-size="7.0" text-anchor="middle" fill="#000">0</text><polygon points="571.55,186.95 572.96,182.40 575.77,182.40 577.17,186.95 575.77,191.50 572.96,191.50" fill="#8AE234" stroke="#3d6a12" stroke-width="0.8"/><text x="574.36" y="188.90" font-size="7.0" text-anchor="middle" fill="#000">0</text><polygon points="577.17,186.95 578.58,182.40 581.39,182.40 582.80,186.95 581.39,191.50 578.58,191.50" fill="#8AE234" stroke="#3d6a12" stroke-width="0.8"/><text x="579.99" y="188.90" font-size="7.0" text-anchor="middle" fill="#000">0</text><polygon points="582.80,186.95 584.21,182.40 587.02,182.40 588.42,186.95 587.02,191.50 584.21,191.50" fill="#8AE234" stroke="#3d6a12" stroke-width="0.8"/><text x="585.61" y="188.90" font-size="7.0" text-anchor="middle" fill="#000">0</text><polygon points="594.05,186.95 595.46,182.40 598.27,182.40 599.67,186.95 598.27,191.50 595.46,191.50" fill="#8AE234" stroke="#3d6a12" stroke-width="0.8"/><text x="596.86" y="188.90" font-size="7.0" text-anchor="middle" fill="#000">0</text><polygon points="599.67,186.95 601.08,182.40 603.89,182.40 605.30,186.95 603.89,191.50 601.08,191.50" fill="#8AE234" stroke="#3d6a12" stroke-width="0.8"/><text x="602.49" y="188.90" font-size="7.0" text-anchor="middle" fill="#000">0</text><polygon points="605.30,186.95 606.71,182.40 609.52,182.40 610.92,186.95 609.52,191.50 606.71,191.50" fill="#8AE234" stroke="#3d6a12" stroke-width="0.8"/><text x="608.11" y="188.90" font-size="7.0" text-anchor="middle" fill="#000">0</text><polygon points="610.92,186.95 612.33,182.40 615.14,182.40 616.55,186.95 615.14,191.50 612.33,191.50" fill="#8AE234" stroke="#3d6a12" stroke-width="0.8"/><text x="613.74" y="188.90" font-size="7.0" text-anchor="middle" fill="#000">0</text><polygon points="616.55,186.95 617.96,182.40 620.77,182.40 622.17,186.95 620.77,191.50 617.96,191.50" fill="#8AE234" stroke="#3d6a12" stroke-width="0.8"/><text x="619.36" y="188.90" font-size="7.0" text-anchor="middle" fill="#000">0</text><polygon points="622.17,186.95 623.58,182.40 626.39,182.40 627.80,186.95 626.39,191.50 623.58,191.50" fill="#8AE234" stroke="#3d6a12" stroke-width="0.8"/><text x="624.99" y="188.90" font-size="7.0" text-anchor="middle" fill="#000">0</text><polygon points="627.80,186.95 629.21,182.40 632.02,182.40 633.42,186.95 632.02,191.50 629.21,191.50" fill="#8AE234" stroke="#3d6a12" stroke-width="0.8"/><text x="630.61" y="188.90" font-size="7.0" text-anchor="middle" fill="#000">1</text><polygon points="633.42,186.95 634.83,182.40 637.64,182.40 639.05,186.95 637.64,191.50 634.83,191.50" fill="#8AE234" stroke="#3d6a12" stroke-width="0.8"/><text x="636.24" y="188.90" font-size="7.0" text-anchor="middle" fill="#000">1</text><polygon points="644.67,186.95 646.08,182.40 648.89,182.40 650.30,186.95 648.89,191.50 646.08,191.50" fill="#8AE234" stroke="#3d6a12" stroke-width="0.8"/><text x="647.49" y="188.90" font-size="7.0" text-anchor="middle" fill="#000">0</text><polygon points="650.30,186.95 651.71,182.40 654.52,182.40 655.92,186.95 654.52,191.50 651.71,191.50" fill="#8AE234" stroke="#3d6a12" stroke-width="0.8"/><text x="653.11" y="188.90" font-size="7.0" text-anchor="middle" fill="#000">0</text><polygon points="655.92,186.95 657.33,182.40 660.14,182.40 661.55,186.95 660.14,191.50 657.33,191.50" fill="#8AE234" stroke="#3d6a12" stroke-width="0.8"/><text x="658.74" y="188.90" font-size="7.0" text-anchor="middle" fill="#000">0</text><polygon points="661.55,186.95 662.96,182.40 665.77,182.40 667.17,186.95 665.77,191.50 662.96,191.50" fill="#8AE234" stroke="#3d6a12" stroke-width="0.8"/><text x="664.36" y="188.90" font-size="7.0" text-anchor="middle" fill="#000">1</text><polygon points="667.17,186.95 668.58,182.40 671.39,182.40 672.80,186.95 671.39,191.50 668.58,191.50" fill="#8AE234" stroke="#3d6a12" stroke-width="0.8"/><text x="669.99" y="188.90" font-size="7.0" text-anchor="middle" fill="#000">0</text><polygon points="672.80,186.95 674.21,182.40 677.02,182.40 678.42,186.95 677.02,191.50 674.21,191.50" fill="#8AE234" stroke="#3d6a12" stroke-width="0.8"/><text x="675.61" y="188.90" font-size="7.0" text-anchor="middle" fill="#000">0</text><polygon points="678.42,186.95 679.83,182.40 682.64,182.40 684.05,186.95 682.64,191.50 679.83,191.50" fill="#8AE234" stroke="#3d6a12" stroke-width="0.8"/><text x="681.24" y="188.90" font-size="7.0" text-anchor="middle" fill="#000">1</text><polygon points="684.05,186.95 685.46,182.40 688.27,182.40 689.67,186.95 688.27,191.50 685.46,191.50" fill="#8AE234" stroke="#3d6a12" stroke-width="0.8"/><text x="686.86" y="188.90" font-size="7.0" text-anchor="middle" fill="#000">1</text><rect x="110.95" y="193.00" width="9.20" height="9.20" rx="4.60" fill="#F66A32" stroke="#7b3519" stroke-width="0.6"/><text x="115.55" y="199.80" font-size="6.8" text-anchor="middle" fill="#000">S</text><polygon points="121.35,197.60 123.95,193.00 158.12,193.00 160.72,197.60 158.12,202.20 123.95,202.20" fill="#55D795" stroke="#2a6b4a" stroke-width="0.7"/><text x="141.04" y="199.55" font-size="6.4" text-anchor="middle" fill="#000" stroke="#000" stroke-width="0.15">AW: 68</text><polygon points="160.72,197.60 162.13,193.00 164.94,193.00 166.35,197.60 164.94,202.20 162.13,202.20" fill="#55D795" stroke="#2a6b4a" stroke-width="0.8"/><text x="163.54" y="199.10" font-size="5.0" text-anchor="middle" fill="#000">W</text><polygon points="166.35,197.60 167.76,193.00 170.57,193.00 171.97,197.60 170.57,202.20 167.76,202.20" fill="#FCE94F" stroke="#7e7427" stroke-width="0.8"/><text x="169.16" y="199.10" font-size="5.0" text-anchor="middle" fill="#000">A</text><polygon points="171.97,197.60 174.57,193.00 214.38,193.00 216.97,197.60 214.38,202.20 174.57,202.20" fill="#729FCF" stroke="#394f67" stroke-width="0.7"/><text x="194.47" y="199.55" font-size="6.4" text-anchor="middle" fill="#000" stroke="#000" stroke-width="0.15">DW: 00</text><polygon points="216.97,197.60 218.38,193.00 221.19,193.00 222.60,197.60 221.19,202.20 218.38,202.20" fill="#FCE94F" stroke="#7e7427" stroke-width="0.8"/><text x="219.79" y="199.10" font-size="5.0" text-anchor="middle" fill="#000">A</text><rect x="279.95" y="193.00" width="9.20" height="9.20" rx="4.60" fill="#FCAE3E" stroke="#7e571f" stroke-width="0.6"/><text x="284.55" y="199.80" font-size="5.6" text-anchor="middle" fill="#000">Sr</text><polygon points="290.30,197.60 292.90,193.00 327.07,193.00 329.68,197.60 327.07,202.20 292.90,202.20" fill="#4EDC44" stroke="#276e22" stroke-width="0.7"/><text x="309.99" y="199.55" font-size="6.4" text-anchor="middle" fill="#000" stroke="#000" stroke-width="0.15">AR: 68</text><polygon points="329.68,197.60 331.08,193.00 333.89,193.00 335.30,197.60 333.89,202.20 331.08,202.20" fill="#4EDC44" stroke="#276e22" stroke-width="0.8"/><text x="332.49" y="199.10" font-size="5.0" text-anchor="middle" fill="#000">R</text><polygon points="335.30,197.60 336.71,193.00 339.52,193.00 340.93,197.60 339.52,202.20 336.71,202.20" fill="#FCE94F" stroke="#7e7427" stroke-width="0.8"/><text x="338.11" y="199.10" font-size="5.0" text-anchor="middle" fill="#000">A</text><polygon points="340.93,197.60 343.53,193.00 383.32,193.00 385.93,197.60 383.32,202.20 343.53,202.20" fill="#64D1D2" stroke="#326869" stroke-width="0.7"/><text x="363.43" y="199.55" font-size="6.4" text-anchor="middle" fill="#000" stroke="#000" stroke-width="0.15">DR: 30</text><polygon points="385.93,197.60 387.33,193.00 390.14,193.00 391.55,197.60 390.14,202.20 387.33,202.20" fill="#FCE94F" stroke="#7e7427" stroke-width="0.8"/><text x="388.74" y="199.10" font-size="5.0" text-anchor="middle" fill="#000">A</text><polygon points="391.55,197.60 394.15,193.00 433.95,193.00 436.55,197.60 433.95,202.20 394.15,202.20" fill="#64D1D2" stroke="#326869" stroke-width="0.7"/><text x="414.05" y="199.55" font-size="6.4" text-anchor="middle" fill="#000" stroke="#000" stroke-width="0.15">DR: 35</text><polygon points="436.55,197.60 437.96,193.00 440.77,193.00 442.18,197.60 440.77,202.20 437.96,202.20" fill="#FCE94F" stroke="#7e7427" stroke-width="0.8"/><text x="439.36" y="199.10" font-size="5.0" text-anchor="middle" fill="#000">A</text><polygon points="442.18,197.60 444.78,193.00 484.57,193.00 487.18,197.60 484.57,202.20 444.78,202.20" fill="#64D1D2" stroke="#326869" stroke-width="0.7"/><text x="464.68" y="199.55" font-size="6.4" text-anchor="middle" fill="#000" stroke="#000" stroke-width="0.15">DR: 23</text><polygon points="487.18,197.60 488.58,193.00 491.39,193.00 492.80,197.60 491.39,202.20 488.58,202.20" fill="#FCE94F" stroke="#7e7427" stroke-width="0.8"/><text x="489.99" y="199.10" font-size="5.0" text-anchor="middle" fill="#000">A</text><polygon points="492.80,197.60 495.40,193.00 535.20,193.00 537.80,197.60 535.20,202.20 495.40,202.20" fill="#64D1D2" stroke="#326869" stroke-width="0.7"/><text x="515.30" y="199.55" font-size="6.4" text-anchor="middle" fill="#000" stroke="#000" stroke-width="0.15">DR: 01</text><polygon points="537.80,197.60 539.21,193.00 542.02,193.00 543.42,197.60 542.02,202.20 539.21,202.20" fill="#FCE94F" stroke="#7e7427" stroke-width="0.8"/><text x="540.61" y="199.10" font-size="5.0" text-anchor="middle" fill="#000">A</text><polygon points="543.42,197.60 546.02,193.00 585.82,193.00 588.42,197.60 585.82,202.20 546.02,202.20" fill="#64D1D2" stroke="#326869" stroke-width="0.7"/><text x="565.92" y="199.55" font-size="6.4" text-anchor="middle" fill="#000" stroke="#000" stroke-width="0.15">DR: 10</text><polygon points="588.42,197.60 589.83,193.00 592.64,193.00 594.05,197.60 592.64,202.20 589.83,202.20" fill="#FCE94F" stroke="#7e7427" stroke-width="0.8"/><text x="591.24" y="199.10" font-size="5.0" text-anchor="middle" fill="#000">A</text><polygon points="594.05,197.60 596.65,193.00 636.45,193.00 639.05,197.60 636.45,202.20 596.65,202.20" fill="#64D1D2" stroke="#326869" stroke-width="0.7"/><text x="616.55" y="199.55" font-size="6.4" text-anchor="middle" fill="#000" stroke="#000" stroke-width="0.15">DR: 03</text><polygon points="639.05,197.60 640.46,193.00 643.27,193.00 644.67,197.60 643.27,202.20 640.46,202.20" fill="#FCE94F" stroke="#7e7427" stroke-width="0.8"/><text x="641.86" y="199.10" font-size="5.0" text-anchor="middle" fill="#000">A</text><polygon points="644.67,197.60 647.27,193.00 687.07,193.00 689.67,197.60 687.07,202.20 647.27,202.20" fill="#64D1D2" stroke="#326869" stroke-width="0.7"/><text x="667.17" y="199.55" font-size="6.4" text-anchor="middle" fill="#000" stroke="#000" stroke-width="0.15">DR: 13</text><polygon points="689.67,197.60 691.08,193.00 693.89,193.00 695.30,197.60 693.89,202.20 691.08,202.20" fill="#CDF040" stroke="#667820" stroke-width="0.8"/><text x="692.49" y="199.10" font-size="5.0" text-anchor="middle" fill="#000">N</text><rect x="696.75" y="193.00" width="9.20" height="9.20" rx="4.60" fill="#FBCA47" stroke="#7d6523" stroke-width="0.6"/><text x="701.35" y="199.80" font-size="6.2" text-anchor="middle" fill="#000">P</text><polygon points="115.60,208.50 118.20,204.00 698.70,204.00 701.30,208.50 698.70,213.00 118.20,213.00" fill="#FCAE3E" stroke="#b06a10" stroke-width="0.8"/><text x="408.45" y="209.75" font-size="6.4" text-anchor="middle" fill="#000" stroke="#000" stroke-width="0.12" textLength="139" lengthAdjust="spacing">Read date/time: Sunday, 10.03.2013 23:35:30</text></g>
 <!-- scrollbar arrows -->
 <path d="M738.3 151.8L739.8 150.3L741.3 151.8" fill="none" stroke="#555" stroke-width="0.8"/>
 <path d="M738.3 311.8L739.8 313.3L741.3 311.8" fill="none" stroke="#555" stroke-width="0.8"/>
 <path d="M13.6 318L11.9 319.6L13.6 321.2" fill="none" stroke="#444" stroke-width="1.2"/>
 <path d="M731 318.3L732.5 319.6L731 320.9" fill="none" stroke="#555" stroke-width="0.9"/>
</svg>
</body></html>
